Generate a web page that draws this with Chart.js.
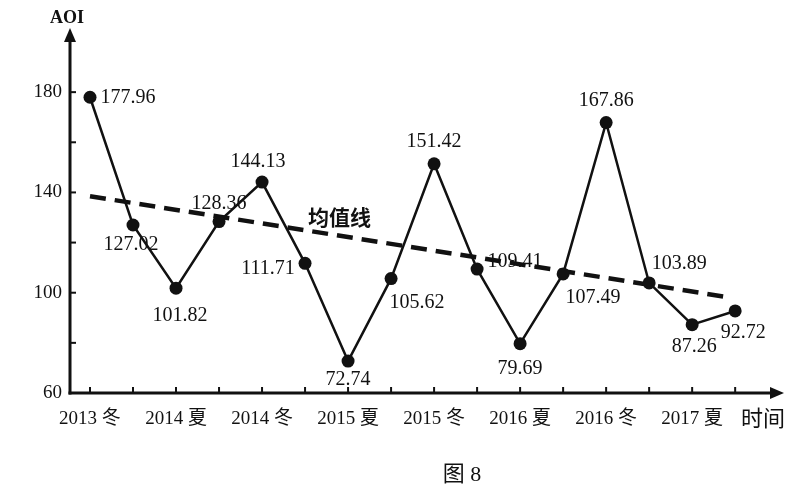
<!DOCTYPE html>
<html><head><meta charset="utf-8">
<script src="https://cdn.jsdelivr.net/npm/chart.js@4"></script>
<style>html,body{margin:0;padding:0;background:#fff}#wrap{width:800px;height:500px}</style>
</head><body><div id="wrap"><canvas id="c" width="800" height="500"></canvas></div>
<script>
// ---- data ----
const categories = ['2013 冬','2014 春','2014 夏','2014 秋','2014 冬','2015 春','2015 夏','2015 秋','2015 冬','2016 春','2016 夏','2016 秋','2016 冬','2017 春','2017 夏','2017 秋'];
const aoiValues = [177.96,127.02,101.82,128.36,144.13,111.71,72.74,105.62,151.42,109.41,79.69,107.49,167.86,103.89,87.26,92.72];
const meanLineX = [0, 14.8];
const meanLineY = [138.5, 98.3];
const yTickLabels = [60, 100, 140, 180];
const yAxisTitle = 'AOI';
const xAxisTitle = '时间';
const meanLabel = '均值线';
const caption = '图 8';

// ---- style / placement (not data) ----
const labelOffsets = [[38,0],[-2,20],[4,28],[0,-18],[-4,-20],[-37,5],[0,19],[26,24],[0,-22],[38,-7],[0,25],[30,24],[0,-22],[30,-19],[2,22],[8,22]];
const SERIF = "'Liberation Serif','Noto Sans CJK SC',serif";
const INK = '#111';

const xIdx = categories.map((_, i) => i);

const decor = {
  id: 'decor',
  afterDraw(chart) {
    const ctx = chart.ctx, xs = chart.scales.x, ys = chart.scales.y, a = chart.chartArea;
    ctx.save();
    ctx.strokeStyle = INK; ctx.fillStyle = INK; ctx.lineWidth = 3; ctx.lineCap = 'butt';
    // axes
    ctx.beginPath(); ctx.moveTo(a.left, a.bottom + 1.5); ctx.lineTo(a.left, a.top - 2); ctx.stroke();
    ctx.beginPath(); ctx.moveTo(a.left - 1.5, a.bottom); ctx.lineTo(a.right + 2, a.bottom); ctx.stroke();
    // arrows
    ctx.beginPath(); ctx.moveTo(a.left, a.top - 14); ctx.lineTo(a.left - 6, a.top); ctx.lineTo(a.left + 6, a.top); ctx.closePath(); ctx.fill();
    ctx.beginPath(); ctx.moveTo(a.right + 14, a.bottom); ctx.lineTo(a.right, a.bottom - 6); ctx.lineTo(a.right, a.bottom + 6); ctx.closePath(); ctx.fill();
    // ticks
    ctx.lineWidth = 2;
    xIdx.forEach(i => { const px = xs.getPixelForValue(i); ctx.beginPath(); ctx.moveTo(px, a.bottom); ctx.lineTo(px, a.bottom - 6); ctx.stroke(); });
    for (let v = 80; v <= 180; v += 20) { const py = ys.getPixelForValue(v); ctx.beginPath(); ctx.moveTo(a.left, py); ctx.lineTo(a.left + 6, py); ctx.stroke(); }
    // value labels
    const pts = chart.getDatasetMeta(0).data;
    ctx.font = '20px ' + SERIF; ctx.textAlign = 'center'; ctx.textBaseline = 'middle';
    aoiValues.forEach((v, i) => {
      const p = pts[i], o = labelOffsets[i];
      ctx.fillText(v.toFixed(2), p.x + o[0], p.y + o[1]);
    });
    // titles
    ctx.font = 'bold 18px ' + SERIF;
    ctx.fillText(yAxisTitle, a.left - 3, 18);
    ctx.font = '22px ' + SERIF;
    ctx.fillText(xAxisTitle, a.right - 7, 420);
    ctx.font = 'bold 21px ' + SERIF;
    ctx.fillText(meanLabel, xs.getPixelForValue(5.8), ys.getPixelForValue(129));
    ctx.font = '22px ' + SERIF;
    ctx.fillText(caption, 462, 475);
    ctx.restore();
  }
};

new Chart(document.getElementById('c'), {
  type: 'line',
  data: {
    datasets: [
      {
        label: 'AOI',
        data: aoiValues.map((v, i) => ({ x: i, y: v })),
        borderColor: INK, backgroundColor: INK, borderWidth: 2.5,
        pointRadius: 6.5, pointBackgroundColor: INK, pointBorderWidth: 0, tension: 0
      },
      {
        label: meanLabel,
        data: meanLineX.map((x, i) => ({ x, y: meanLineY[i] })),
        borderColor: INK, borderWidth: 4.5, borderDash: [16, 9], pointRadius: 0, tension: 0
      }
    ]
  },
  options: {
    responsive: false, devicePixelRatio: 1, animation: false,
    layout: { padding: { left: 0, top: 42, right: 30, bottom: 0 } },
    plugins: { legend: { display: false }, tooltip: { enabled: false } },
    scales: {
      x: {
        type: 'linear', min: -0.465, max: 15.81,
        afterBuildTicks: s => { s.ticks = xIdx.map(v => ({ value: v })); },
        afterFit: s => { s.height = 107; },
        grid: { display: false, drawTicks: false }, border: { display: false },
        ticks: { autoSkip: false, maxRotation: 0, padding: 15, color: INK, font: { family: SERIF, size: 19 },
          callback: v => (v % 2 === 0 ? categories[v] : '') }
      },
      y: {
        min: 60, max: 200,
        afterFit: s => { s.width = 70; },
        grid: { display: false, drawTicks: false }, border: { display: false },
        ticks: { stepSize: 20, padding: 8, color: INK, font: { family: SERIF, size: 19 },
          callback: v => (yTickLabels.includes(v) ? String(v) : '') }
      }
    }
  },
  plugins: [decor]
});
</script></body></html>
